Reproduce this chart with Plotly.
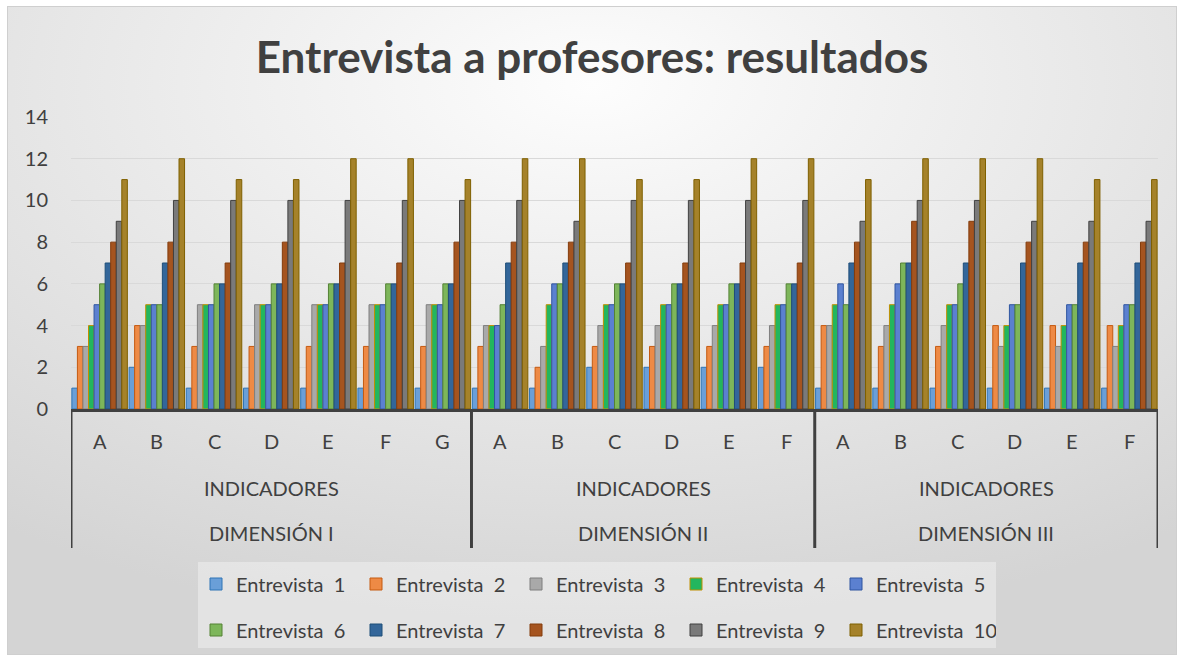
import base64
import plotly.graph_objects as go

# ---------------- data ----------------
letters = ["A", "B", "C", "D", "E", "F", "G",
           "A", "B", "C", "D", "E", "F",
           "A", "B", "C", "D", "E", "F"]
level2 = ["INDICADORES", "INDICADORES", "INDICADORES"]
level3 = ["DIMENSIÓN I", "DIMENSIÓN II", "DIMENSIÓN III"]
group_sizes = [7, 6, 6]

series_names = ["Entrevista\u00a0\u00a01", "Entrevista\u00a0\u00a02", "Entrevista\u00a0\u00a03",
                "Entrevista\u00a0\u00a04", "Entrevista\u00a0\u00a05", "Entrevista\u00a0\u00a06",
                "Entrevista\u00a0\u00a07", "Entrevista\u00a0\u00a08", "Entrevista\u00a0\u00a09",
                "Entrevista\u00a0\u00a010"]

entrevista_1 = [1, 2, 1, 1, 1, 1, 1, 1, 1, 2, 2, 2, 2, 1, 1, 1, 1, 1, 1]
entrevista_2 = [3, 4, 3, 3, 3, 3, 3, 3, 2, 3, 3, 3, 3, 4, 3, 3, 4, 4, 4]
entrevista_3 = [3, 4, 5, 5, 5, 5, 5, 4, 3, 4, 4, 4, 4, 4, 4, 4, 3, 3, 3]
entrevista_4 = [4, 5, 5, 5, 5, 5, 5, 4, 5, 5, 5, 5, 5, 5, 5, 5, 4, 4, 4]
entrevista_5 = [5, 5, 5, 5, 5, 5, 5, 4, 6, 5, 5, 5, 5, 6, 6, 5, 5, 5, 5]
entrevista_6 = [6, 5, 6, 6, 6, 6, 6, 5, 6, 6, 6, 6, 6, 5, 7, 6, 5, 5, 5]
entrevista_7 = [7, 7, 6, 6, 6, 6, 6, 7, 7, 6, 6, 6, 6, 7, 7, 7, 7, 7, 7]
entrevista_8 = [8, 8, 7, 8, 7, 7, 8, 8, 8, 7, 7, 7, 7, 8, 9, 9, 8, 8, 8]
entrevista_9 = [9, 10, 10, 10, 10, 10, 10, 10, 9, 10, 10, 10, 10, 9, 10, 10, 9, 9, 9]
entrevista_10 = [11, 12, 11, 11, 12, 12, 11, 12, 12, 11, 11, 12, 12, 11, 12, 12, 12, 11, 11]

series_values = [entrevista_1, entrevista_2, entrevista_3, entrevista_4, entrevista_5,
                 entrevista_6, entrevista_7, entrevista_8, entrevista_9, entrevista_10]

y_ticks = [0, 2, 4, 6, 8, 10, 12, 14]

# ---------------- style ----------------
fills = ["#6A9FD8", "#EE8A45", "#A9A9A9", "#22B65E", "#5B80D0",
         "#7DB65A", "#33669A", "#A5541F", "#7A7A7A", "#A5822A"]
lines = ["#2E75B6", "#C55A11", "#7F7F7F", "#C09000", "#2F55A0",
         "#548235", "#1F4E79", "#843C0C", "#404040", "#7F6000"]

W, H = 1184, 661
PL, PR, PT, PB = 71, 1158, 117, 409   # plot area pixels
pw, ph = PR - PL, PB - PT
FONT = "Lato"
TXT = "#404040"
FS = 20


def py(p):
    return (PB - p) / ph


def px(p):
    return (p - PL) / pw


x_pos = list(range(len(letters)))

fig = go.Figure()
for i, (name, vals) in enumerate(zip(series_names, series_values)):
    fig.add_trace(go.Bar(
        x=x_pos, y=vals, name=name,
        marker=dict(color=fills[i], line=dict(color=lines[i], width=1)),
        legend="legend" if i < 5 else "legend2",
        hoverinfo="y+name",
    ))

# background gradient with border
svg = ('<svg xmlns="http://www.w3.org/2000/svg" width="1170" height="649">'
       '<defs><radialGradient id="g" cx="50%" cy="12%" r="85%">'
       '<stop offset="0" stop-color="#fdfdfd"/><stop offset="1" stop-color="#d4d4d4"/>'
       '</radialGradient></defs>'
       '<rect x="0.5" y="0.5" width="1169" height="648" fill="url(#g)" stroke="#cfcfcf" stroke-width="1"/>'
       '</svg>')
src = "data:image/svg+xml;base64," + base64.b64encode(svg.encode()).decode()

annotations = []
for i, lab in enumerate(letters):
    annotations.append(dict(x=i, y=py(441), xref="x", yref="paper", text=lab,
                            showarrow=False, font=dict(size=FS, color=TXT, family=FONT),
                            xanchor="center", yanchor="middle"))
start = 0
bounds = [-0.5]
for g, n in enumerate(group_sizes):
    center = start + (n - 1) / 2
    annotations.append(dict(x=center, y=py(488), xref="x", yref="paper", text=level2[g],
                            showarrow=False, font=dict(size=FS, color=TXT, family=FONT),
                            xanchor="center", yanchor="middle"))
    annotations.append(dict(x=center, y=py(533), xref="x", yref="paper", text=level3[g],
                            showarrow=False, font=dict(size=FS, color=TXT, family=FONT),
                            xanchor="center", yanchor="middle"))
    start += n
    bounds.append(start - 0.5)

shapes = [dict(type="rect", xref="paper", yref="paper",
               x0=px(198), x1=px(996), y0=py(648), y1=py(562),
               fillcolor="rgba(255,255,255,0.35)", line=dict(width=0), layer="below")]
for b in bounds:
    shapes.append(dict(type="line", xref="x", yref="paper", x0=b, x1=b,
                       y0=0, y1=py(548), line=dict(color=TXT, width=3)))

legend_common = dict(orientation="h", xanchor="left", yanchor="middle",
                     font=dict(size=FS, color=TXT, family=FONT),
                     bgcolor="rgba(0,0,0,0)", entrywidth=115, entrywidthmode="pixels",
                     itemclick=False, itemdoubleclick=False)

fig.update_layout(
    width=W, height=H,
    paper_bgcolor="white", plot_bgcolor="rgba(0,0,0,0)",
    margin=dict(l=PL, r=W - PR, t=PT, b=H - PB, pad=0),
    title=dict(text="<b>Entrevista a profesores: resultados</b>", x=0.5, xanchor="center",
               y=1 - 58 / H, yanchor="middle", yref="container",
               font=dict(size=44, color=TXT, family=FONT)),
    barmode="group", bargap=0.03, bargroupgap=0,
    xaxis=dict(range=[-0.5, len(letters) - 0.5], showticklabels=False, ticks="",
               showgrid=False, zeroline=False, showline=True, linecolor=TXT, linewidth=3,
               fixedrange=True),
    yaxis=dict(range=[0, 14], tickvals=y_ticks, showgrid=True, gridcolor="#d9d9d9", gridwidth=1,
               zeroline=False, showline=False, ticks="", ticklabelstandoff=22,
               tickfont=dict(size=FS, color=TXT, family=FONT), fixedrange=True),
    legend=dict(x=px(196), y=py(584), **legend_common),
    legend2=dict(x=px(196), y=py(630), **legend_common),
    annotations=annotations,
    shapes=shapes,
    images=[dict(source=src, xref="paper", yref="paper", x=px(7), y=py(6),
                 sizex=1170 / pw, sizey=649 / ph, xanchor="left", yanchor="top",
                 sizing="stretch", layer="below")],
    showlegend=True,
)

fig.write_html("out.html", config={"displayModeBar": False},
               post_script="document.body.style.margin='0px';")
